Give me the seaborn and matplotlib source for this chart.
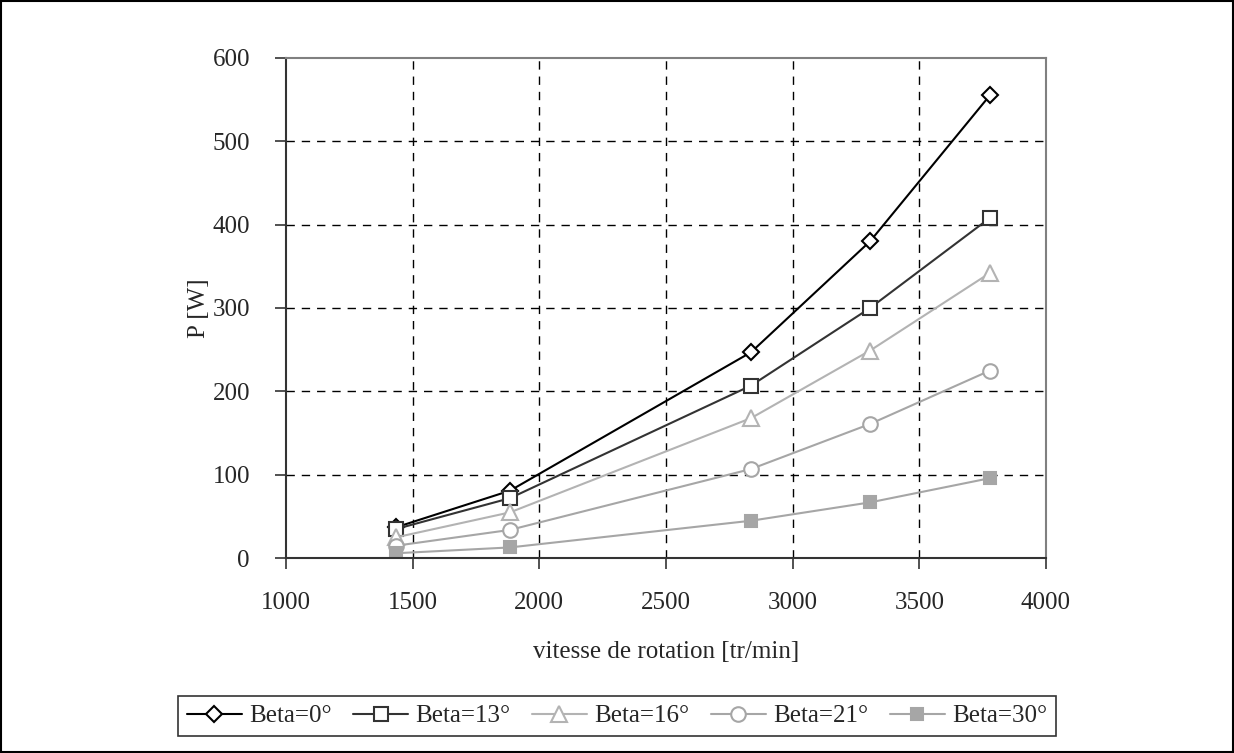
import numpy as np
import pandas as pd
import matplotlib
matplotlib.use('Agg')
import matplotlib.pyplot as plt
from matplotlib.patches import Rectangle
import seaborn as sns

vitesse = [1433, 1884, 2836, 3306, 3779]
beta_0 = [37, 81, 247, 380, 555]
beta_13 = [35, 72, 207, 300, 408]
beta_16 = [25, 55, 168, 249, 342]
beta_21 = [15, 34, 107, 161, 225]
beta_30 = [6, 13, 45, 67, 96]

series_labels = ['Beta=0°', 'Beta=13°', 'Beta=16°', 'Beta=21°', 'Beta=30°']
series_values = [beta_0, beta_13, beta_16, beta_21, beta_30]
line_colors = ['#000000', '#333333', '#b3b3b3', '#a6a6a6', '#a6a6a6']
marker_shapes = ['D', 's', '^', 'o', 's']
marker_faces = ['white', 'white', 'white', 'white', '#a6a6a6']
marker_sizes = [11, 14, 15, 14, 12]

rows = []
for lab, vals in zip(series_labels, series_values):
    for v, p in zip(vitesse, vals):
        rows.append({'vitesse': v, 'P': p, 'serie': lab})
df = pd.DataFrame(rows)

sns.set_style('white')
plt.rcParams['font.family'] = ['Liberation Serif', 'DejaVu Serif']

fig = plt.figure(figsize=(12.34, 7.53), dpi=100)
ax = fig.add_axes([0.2318, 0.2586, 0.6158, 0.6648])

for i, lab in enumerate(series_labels):
    sub = df[df['serie'] == lab]
    sns.lineplot(data=sub, x='vitesse', y='P', ax=ax, color=line_colors[i],
                 marker=marker_shapes[i], markersize=marker_sizes[i],
                 markerfacecolor=marker_faces[i], markeredgecolor=line_colors[i],
                 markeredgewidth=1.5, linewidth=1.5, label=lab)

ax.set_xlim(1000, 4000)
ax.set_ylim(0, 600)
ax.set_xticks(np.arange(1000, 4001, 500))
ax.set_yticks(np.arange(0, 601, 100))
ax.grid(True, color='black', linestyle=(0, (6, 5)), linewidth=1)
# no dashed line on top of the frame
ax.yaxis.get_gridlines()[-1].set_visible(False)
ax.xaxis.get_gridlines()[-1].set_visible(False)
ax.yaxis.get_gridlines()[0].set_visible(False)
ax.xaxis.get_gridlines()[0].set_visible(False)
ax.tick_params(axis='both', which='major', labelsize=18, direction='out',
               length=8, width=1.2, color='#333333', bottom=True, left=True)
ax.tick_params(axis='x', pad=16)
ax.tick_params(axis='y', pad=18)
for side in ['left', 'bottom']:
    ax.spines[side].set_color('#333333')
    ax.spines[side].set_linewidth(1.5)
for side in ['top', 'right']:
    ax.spines[side].set_color('#808080')
    ax.spines[side].set_linewidth(1.5)

ax.set_xlabel('vitesse de rotation [tr/min]', fontsize=18, labelpad=20)
ax.set_ylabel('P [W]', fontsize=18, labelpad=2)

ax.legend_.remove()
handles, labels = ax.get_legend_handles_labels()
for h in handles:
    h.set_markersize(h.get_markersize() * 0.75)
leg = fig.legend(handles, labels, loc='center', bbox_to_anchor=(0.5, 0.049),
                 ncol=5, fontsize=18, frameon=True, fancybox=False,
                 edgecolor='black', handlelength=2.2, handletextpad=0.3,
                 columnspacing=0.85, borderpad=0.35, borderaxespad=0.2)
leg.get_frame().set_linewidth(1.2)

fig.patches.append(Rectangle((0.001, 0.001), 0.998, 0.998, transform=fig.transFigure,
                             fill=False, edgecolor='black', linewidth=1.5))

fig.savefig('out.png', dpi=100, facecolor='white')
